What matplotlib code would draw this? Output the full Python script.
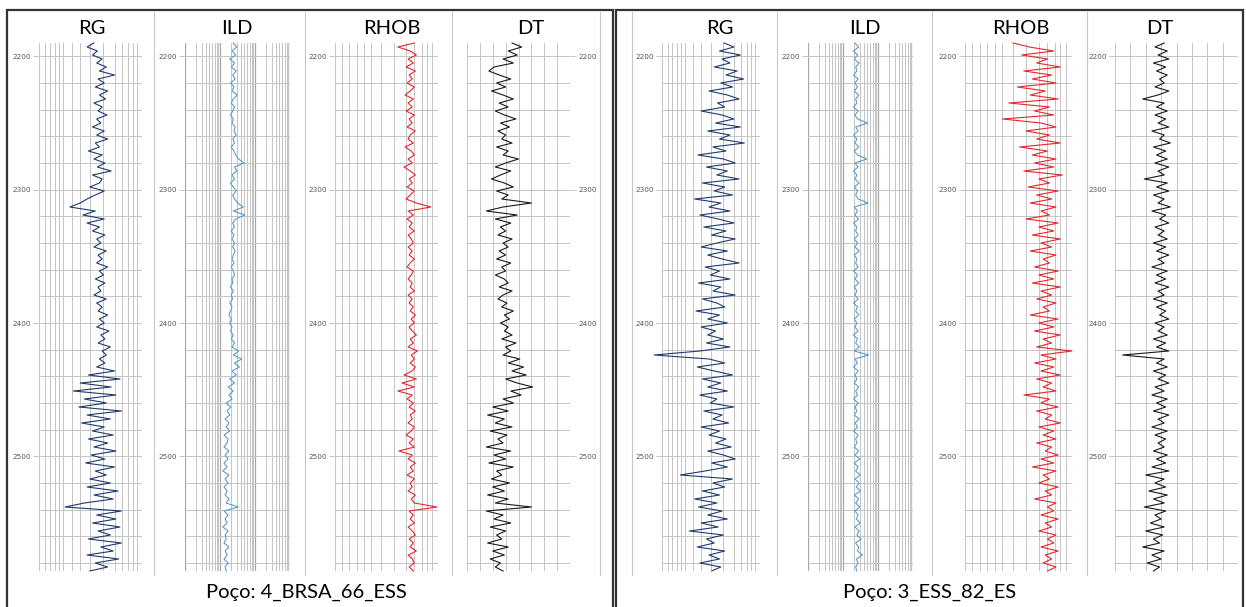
import numpy as np
import matplotlib.pyplot as plt
from matplotlib.lines import Line2D
from matplotlib.patches import Rectangle
from matplotlib.ticker import LogLocator, NullFormatter

# depth samples (m), every 3 m
depth = np.arange(2190, 2587, 3)

# ---- well 4_BRSA_66_ESS ----
rg_a = [80, 70, 85, 78, 92, 84, 98, 88, 110, 86,
        95, 82, 100, 88, 97, 80, 92, 86, 99, 84,
        90, 78, 95, 84, 100, 82, 88, 72, 92, 80,
        96, 85, 105, 78, 92, 88, 74, 95, 82, 70,
        60, 45, 82, 64, 95, 70, 88, 78, 96, 84,
        90, 80, 98, 86, 92, 84, 100, 88, 94, 82,
        96, 86, 90, 80, 98, 84, 92, 86, 100, 88,
        95, 84, 102, 90, 96, 86, 104, 92, 98, 88,
        96, 84, 110, 72, 118, 60, 105, 50, 112, 66,
        98, 58, 120, 70, 104, 62, 95, 78, 108, 72,
        100, 80, 112, 76, 96, 68, 110, 82, 98, 74,
        104, 70, 115, 80, 108, 66, 38, 120, 84, 112,
        78, 118, 86, 104, 72, 120, 90, 108, 70, 116, 82, 100, 74]
ild_a = [2.4, 3.0, 2.2, 2.8, 1.9, 2.6, 2.1, 2.9, 2.3, 2.7,
         2.0, 2.5, 2.2, 3.1, 2.4, 2.1, 2.6, 2.3, 2.0, 2.4,
         2.2, 2.7, 2.5, 2.9, 2.3, 2.6, 2.1, 2.5, 2.8, 3.4,
         4.8, 2.6, 3.0, 2.2, 2.6, 2.0, 2.4, 2.9, 2.3, 2.6,
         3.2, 4.6, 2.4, 5.2, 2.8, 2.3, 2.6, 2.1, 2.5, 2.2,
         2.6, 2.3, 2.7, 2.4, 2.2, 2.5, 2.1, 2.4, 2.6, 2.2,
         2.3, 2.0, 2.4, 2.1, 2.3, 1.9, 2.2, 2.0, 1.8, 2.1,
         1.9, 2.2, 2.0, 2.4, 2.1, 2.6, 2.2, 3.4, 2.4, 4.2,
         2.6, 3.6, 2.2, 2.9, 1.9, 2.6, 1.7, 2.4, 1.8, 2.2,
         1.5, 2.0, 1.6, 1.9, 1.4, 1.8, 1.5, 1.9, 1.3, 1.7,
         1.6, 1.3, 1.8, 1.4, 1.7, 1.3, 1.6, 1.2, 1.8, 1.4,
         1.7, 1.3, 1.6, 1.4, 1.8, 1.5, 3.3, 1.3, 1.7, 1.4,
         1.6, 1.2, 1.7, 1.4, 1.5, 1.3, 1.8, 1.4, 1.6, 1.3, 1.7, 1.4, 1.5]
rhob_a = [2.72, 2.56, 2.68, 2.74, 2.66, 2.71, 2.64, 2.73, 2.67, 2.70,
          2.65, 2.72, 2.68, 2.63, 2.71, 2.66, 2.70, 2.64, 2.72, 2.67,
          2.70, 2.65, 2.73, 2.68, 2.66, 2.71, 2.63, 2.69, 2.72, 2.66,
          2.70, 2.62, 2.68, 2.73, 2.67, 2.70, 2.65, 2.72, 2.68, 2.64,
          2.74, 2.88, 2.66, 2.71, 2.65, 2.70, 2.67, 2.72, 2.66, 2.69,
          2.71, 2.66, 2.70, 2.67, 2.72, 2.68, 2.65, 2.71, 2.69, 2.66,
          2.70, 2.68, 2.72, 2.66, 2.70, 2.67, 2.71, 2.68, 2.73, 2.69,
          2.72, 2.67, 2.70, 2.74, 2.68, 2.71, 2.66, 2.75, 2.69, 2.72,
          2.68, 2.73, 2.70, 2.62, 2.74, 2.60, 2.72, 2.56, 2.70, 2.65,
          2.71, 2.67, 2.73, 2.68, 2.70, 2.66, 2.72, 2.69, 2.64, 2.71,
          2.67, 2.72, 2.57, 2.70, 2.66, 2.73, 2.68, 2.71, 2.65, 2.72,
          2.68, 2.70, 2.66, 2.73, 2.69, 2.72, 2.94, 2.67, 2.71, 2.68,
          2.72, 2.66, 2.70, 2.73, 2.67, 2.71, 2.68, 2.74, 2.66, 2.70, 2.72, 2.67, 2.71]
dt_a = [110, 125, 104, 118, 96, 112, 82, 74, 90, 108,
        86, 100, 78, 96, 112, 90, 104, 84, 98, 116,
        92, 106, 88, 100, 94, 110, 86, 104, 96, 120,
        100, 84, 108, 92, 78, 98, 112, 86, 104, 94,
        140, 96, 70, 118, 84, 108, 92, 100, 88, 110,
        96, 104, 90, 100, 86, 108, 94, 100, 84, 98,
        104, 90, 110, 96, 88, 102, 94, 112, 98, 106,
        92, 104, 98, 110, 94, 116, 100, 108, 96, 122,
        104, 128, 110, 132, 100, 118, 142, 108, 124, 96,
        112, 80, 104, 72, 98, 84, 110, 76, 102, 88,
        96, 70, 108, 82, 100, 74, 112, 86, 94, 78,
        106, 80, 98, 72, 104, 84, 140, 70, 96, 82,
        108, 76, 100, 86, 94, 72, 104, 80, 98, 76, 92, 84, 96]

# ---- well 3_ESS_82_ES ----
rg_b = [95, 110, 88, 120, 92, 104, 80, 115, 98, 125,
        90, 108, 72, 100, 118, 85, 96, 60, 92, 110,
        82, 120, 70, 104, 88, 126, 78, 98, 55, 94,
        112, 68, 100, 84, 118, 62, 96, 80, 108, 50,
        90, 72, 104, 58, 86, 110, 64, 98, 76, 112,
        84, 60, 100, 70, 92, 118, 66, 88, 74, 104,
        56, 90, 78, 112, 62, 84, 96, 52, 88, 70,
        100, 60, 82, 70, 94, 68, 104, 58, -12, 72,
        96, 54, 80, 108, 62, 90, 70, 100, 58, 84,
        74, 110, 64, 92, 78, 102, 60, 88, 72, 98,
        82, 106, 70, 94, 112, 76, 100, 66, 28, 108,
        78, 96, 62, 88, 50, 84, 56, 92, 70, 100,
        60, 86, 42, 94, 68, 80, 54, 96, 72, 88, 58, 90, 76]
ild_b = [2.2, 2.8, 2.0, 2.6, 2.1, 2.9, 2.3, 2.5, 2.0, 2.7,
         2.2, 2.6, 2.1, 2.8, 2.3, 2.5, 2.0, 2.7, 2.2, 2.6,
         5.0, 2.3, 2.7, 2.0, 2.5, 2.2, 2.8, 2.1, 2.6, 4.8,
         2.2, 2.7, 2.0, 2.5, 2.2, 2.9, 2.1, 2.6, 2.3, 2.7,
         5.2, 2.1, 2.6, 2.2, 2.8, 2.0, 2.5, 2.3, 2.7, 2.1,
         2.6, 2.2, 2.9, 2.1, 2.5, 2.3, 2.7, 2.0, 2.6, 2.2,
         2.8, 2.1, 2.5, 2.2, 2.7, 2.0, 2.6, 2.3, 2.8, 2.1,
         2.5, 2.2, 2.7, 2.0, 2.6, 2.3, 2.9, 2.1, 5.4, 2.2,
         2.6, 2.0, 2.7, 2.2, 2.5, 2.1, 2.8, 2.3, 2.6, 2.0,
         2.7, 2.2, 2.5, 2.1, 2.9, 2.2, 2.6, 2.0, 2.7, 2.3,
         2.5, 2.1, 2.8, 2.2, 3.0, 2.1, 2.7, 2.3, 3.1, 2.2,
         2.9, 2.4, 3.2, 2.1, 2.8, 2.3, 3.0, 2.2, 2.7, 2.4,
         3.1, 2.2, 2.9, 2.5, 3.3, 2.3, 2.8, 2.6, 3.6, 2.4, 2.7, 2.3, 2.5]
rhob_b = [2.40, 2.55, 2.78, 2.48, 2.72, 2.62, 2.84, 2.50, 2.76, 2.58,
          2.80, 2.44, 2.70, 2.56, 2.82, 2.36, 2.74, 2.60, 2.78, 2.30,
          2.66, 2.80, 2.52, 2.74, 2.62, 2.84, 2.46, 2.72, 2.58, 2.80,
          2.60, 2.78, 2.50, 2.86, 2.64, 2.74, 2.54, 2.82, 2.62, 2.76,
          2.56, 2.80, 2.66, 2.74, 2.52, 2.82, 2.64, 2.78, 2.58, 2.84,
          2.66, 2.76, 2.56, 2.80, 2.68, 2.74, 2.60, 2.82, 2.64, 2.78,
          2.58, 2.84, 2.66, 2.76, 2.62, 2.80, 2.68, 2.74, 2.56, 2.82,
          2.64, 2.78, 2.60, 2.84, 2.68, 2.76, 2.62, 2.95, 2.66, 2.80,
          2.60, 2.78, 2.66, 2.84, 2.62, 2.76, 2.68, 2.80, 2.50, 2.74,
          2.66, 2.82, 2.62, 2.76, 2.70, 2.84, 2.64, 2.78, 2.68, 2.80,
          2.62, 2.76, 2.70, 2.82, 2.66, 2.78, 2.58, 2.80, 2.68, 2.74,
          2.64, 2.82, 2.70, 2.76, 2.60, 2.80, 2.72, 2.78, 2.66, 2.82,
          2.70, 2.76, 2.64, 2.80, 2.72, 2.78, 2.66, 2.82, 2.70, 2.76, 2.68, 2.80, 2.72]
dt_b = [104, 92, 108, 96, 110, 90, 106, 94, 108, 98,
        104, 92, 110, 96, 76, 104, 94, 108, 92, 106,
        96, 110, 88, 104, 98, 112, 90, 106, 94, 108,
        92, 110, 96, 104, 78, 108, 94, 110, 90, 104,
        96, 112, 88, 106, 98, 110, 92, 104, 96, 108,
        90, 106, 94, 110, 96, 104, 88, 108, 94, 106,
        92, 110, 96, 104, 90, 108, 94, 106, 98, 110,
        92, 104, 96, 108, 90, 106, 94, 110, 50, 104,
        94, 108, 90, 106, 96, 110, 92, 104, 88, 108,
        94, 106, 90, 110, 96, 104, 88, 108, 92, 106,
        96, 104, 90, 108, 94, 106, 88, 110, 80, 104,
        92, 106, 84, 108, 90, 104, 78, 106, 92, 100,
        86, 104, 80, 102, 90, 98, 76, 104, 88, 100, 82, 98, 90]

W, H = 1246, 607
fig = plt.figure(figsize=(12.46, 6.07), dpi=100)
GRID = '#c4c4c4'

def track(x0, x1, vals, color, kind, title, tx, side='left'):
    ax = fig.add_axes([x0 / W, 1 - 571 / H, (x1 - x0) / W, (571 - 43) / H])
    ax.plot(vals, depth, color=color, lw=0.8, clip_on=False)
    if kind == 'ild':
        ax.set_xscale('log')
        ax.set_xlim(0.1, 100)
        ax.xaxis.set_major_locator(LogLocator(10))
        ax.xaxis.set_minor_locator(LogLocator(10, subs=range(2, 10)))
        ax.xaxis.set_minor_formatter(NullFormatter())
        ax.grid(True, axis='x', which='major', color='#a8a8a8', lw=0.9)
        ax.grid(True, axis='x', which='minor', color=GRID, lw=0.7)
    else:
        if kind == 'rg':
            ax.set_xlim(0, 150)
            gx = [0, 8.7, 16, 23.3, 29.1, 35, 48, 59.7, 74.3, 93.2, 110.7, 120.9, 129.6, 136.9, 142.7, 150]
        elif kind == 'rhob':
            ax.set_xlim(1.95, 2.95)
            gx = [1.95, 2.02, 2.09, 2.16, 2.23, 2.30, 2.40, 2.52, 2.64, 2.72, 2.79, 2.84, 2.89, 2.95]
        else:
            ax.set_xlim(40, 200)
            gx = list(range(40, 201, 20))
        ax.set_xticks(gx)
        ax.grid(True, axis='x', color=GRID, lw=0.7)
    ax.tick_params(axis='x', which='both', length=0, labelbottom=False)
    ax.set_ylim(2586, 2190)
    ax.set_yticks([2200, 2300, 2400, 2500])
    ax.set_yticks(np.arange(2220, 2590, 20), minor=True)
    ax.grid(True, axis='y', which='both', color=GRID, lw=0.7)
    ax.tick_params(axis='y', which='major', length=4.5, width=0.7, color=GRID,
                   labelsize=5.2, labelcolor='#595959', pad=1.5)
    ax.tick_params(axis='y', which='minor', length=0)
    if side == 'right':
        ax.yaxis.tick_right()
    for s in ax.spines.values():
        s.set_visible(False)
    ax.set_axisbelow(True)
    fig.text(tx / W, 1 - 28 / H, title, ha='center', va='center',
             fontsize=14.5, family='Lato', color='black')
    return ax

NAVY, BLUE, RED, BLACK = '#1f3b6f', '#5d9ccc', '#e8262b', '#1a1a1a'

track(39, 142, rg_a, NAVY, 'rg', 'RG', 92)
track(185, 290, ild_a, BLUE, 'ild', 'ILD', 237)
track(335, 438, rhob_a, RED, 'rhob', 'RHOB', 392)
track(467, 570, dt_a, BLACK, 'dt', 'DT', 531, side='right')

track(662, 760, rg_b, NAVY, 'rg', 'RG', 720)
track(808, 913, ild_b, BLUE, 'ild', 'ILD', 865)
track(965, 1072, rhob_b, RED, 'rhob', 'RHOB', 1021)
track(1115, 1238, dt_b, BLACK, 'dt', 'DT', 1160)

# separators between tracks
for x in [154, 305, 452, 600, 632, 777, 932, 1087]:
    fig.add_artist(Line2D([x / W, x / W], [1 - 575 / H, 1 - 12 / H],
                          color='#c8c8c8', lw=0.8))

# panel frames
fig.add_artist(Rectangle((7 / W, -0.01), (613 - 7) / W, 1.01 - 10 / H,
                         fill=False, ec='#333333', lw=1.6))
fig.add_artist(Rectangle((616 / W, -0.01), (1243 - 616) / W, 1.01 - 10 / H,
                         fill=False, ec='#333333', lw=1.6))

fig.text(306 / W, 1 - 592 / H, 'Poço: 4_BRSA_66_ESS', ha='center', va='center',
         fontsize=14.5, family='Lato')
fig.text(930 / W, 1 - 592 / H, 'Poço: 3_ESS_82_ES', ha='center', va='center',
         fontsize=14.5, family='Lato')

fig.savefig('out.png', dpi=100)
